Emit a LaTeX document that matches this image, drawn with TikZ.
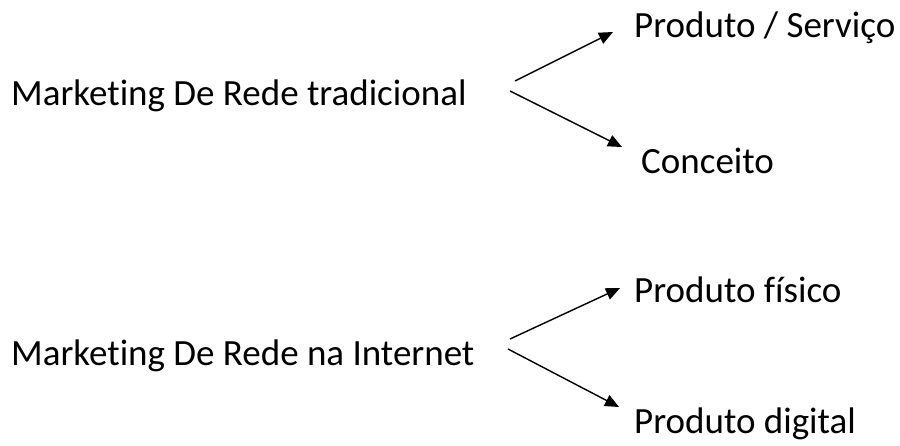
\documentclass[tikz,border=0pt]{standalone}
\usepackage{fontspec}
\setmainfont[Ligatures=NoCommon]{Carlito}
\usetikzlibrary{arrows.meta}
\begin{document}
\begin{tikzpicture}[x=1pt,y=-1pt,
  lbl/.style={anchor=base west,inner sep=0pt,font=\fontsize{37}{44}\selectfont},
  branch/.style={line width=1.4pt,-{Triangle[length=14pt,width=12pt]}}]
\useasboundingbox (0,0) rectangle (900,445);
% sources
\node[lbl] (trad) at (11,105) {Marketing De Rede tradicional};
\node[lbl] (net)  at (11,365) {Marketing De Rede na Internet};
% targets
\node[lbl] (prod) at (634,37)  {Produto / Serviço};
\node[lbl] (conc) at (641,173) {Conceito};
\node[lbl] (fis)  at (634,302) {Produto físico};
\node[lbl] (dig)  at (634,433) {Produto digital};
% branch points
\coordinate (s1) at (515,81);
\coordinate (s2) at (510,91);
\coordinate (s3) at (510,339);
\coordinate (s4) at (508,349);
\coordinate (t1) at (613,32);
\coordinate (t2) at (622,147);
\coordinate (t3) at (620,288);
\coordinate (t4) at (619,407);
\draw[branch] (s1) -- (t1);
\draw[branch] (s2) -- (t2);
\draw[branch] (s3) -- (t3);
\draw[branch] (s4) -- (t4);
\end{tikzpicture}
\end{document}
